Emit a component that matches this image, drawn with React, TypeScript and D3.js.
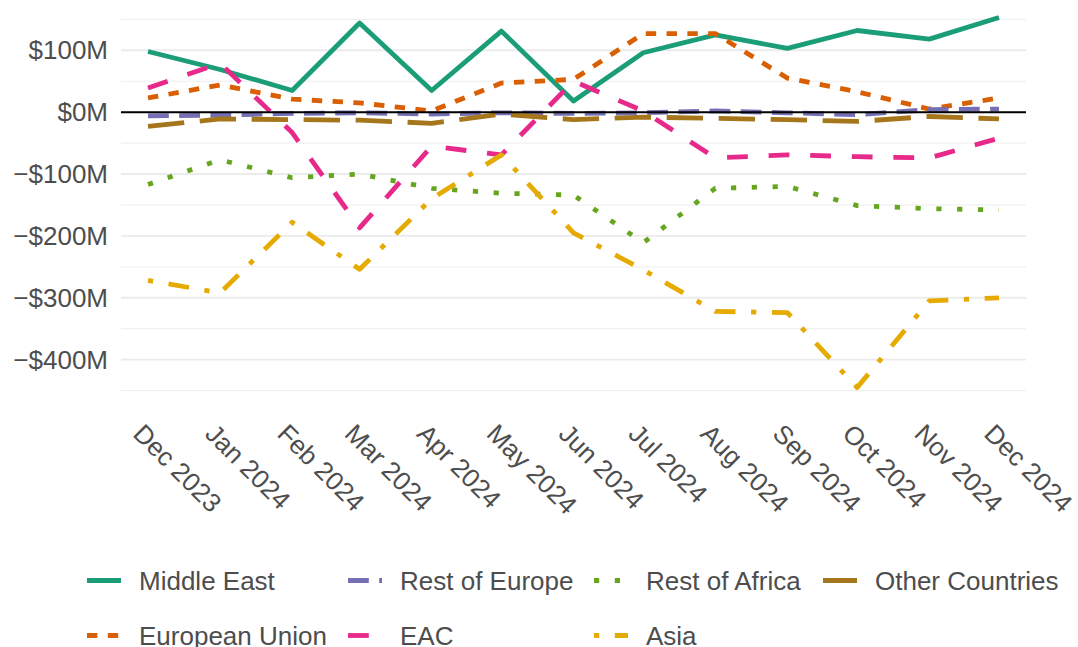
import React from 'react';
import * as d3 from 'd3';

const W = 1078;
const H = 647;

// months on the x axis
const months = ['2023-12-01', '2024-01-01', '2024-02-01', '2024-03-01', '2024-04-01', '2024-05-01', '2024-06-01',
  '2024-07-01', '2024-08-01', '2024-09-01', '2024-10-01', '2024-11-01', '2024-12-01'];
const monthLabels = ['Dec 2023', 'Jan 2024', 'Feb 2024', 'Mar 2024', 'Apr 2024', 'May 2024', 'Jun 2024',
  'Jul 2024', 'Aug 2024', 'Sep 2024', 'Oct 2024', 'Nov 2024', 'Dec 2024'];

// values in $M
const middleEast = [98, 69, 35, 144, 35, 131, 18, 96, 125, 103, 132, 118, 153];
const europeanUnion = [23, 44, 21, 15, 2, 47, 53, 127, 127, 55, 33, 5, 23];
const restOfEurope = [-6, -5, -2, -1, -3, -1, -2, -1, 2, -1, -4, 4, 5];
const eac = [39, 79, -33, -187, -55, -69, 50, 2, -74, -69, -72, -74, -42];
const restOfAfrica = [-117, -77, -106, -100, -123, -131, -134, -211, -123, -120, -151, -156, -158];
const asia = [-272, -292, -178, -254, -140, -69, -195, -255, -322, -324, -445, -305, -300];
const otherCountries = [-23, -11, -12, -13, -18, -3, -12, -8, -10, -12, -15, -7, -11];

const seriesNames = ['Middle East', 'European Union', 'Rest of Europe', 'EAC', 'Rest of Africa', 'Asia', 'Other Countries'];
const seriesValues = [middleEast, europeanUnion, restOfEurope, eac, restOfAfrica, asia, otherCountries];

const majorTicks = [-400, -300, -200, -100, 0, 100];
const minorTicks = [-450, -350, -250, -150, -50, 50, 150];

// ggplot style linetypes: solid, 22, 42, 44, 13, 1343, 73
const linetypes = [null, [2, 2], [4, 2], [4, 4], [1, 3], [1, 3, 4, 3], [7, 3]];
const LW = 4.8;
const UNIT = 5.2;
const dash = (i: number) => linetypes[i] ? linetypes[i]!.map(d => d * UNIT).join(' ') : undefined;

const FONT = '"Liberation Sans", Arial, sans-serif';
const TXT = '#4D4D4D';

const panel = { left: 121, right: 1026 };

export default function App() {
  const dates = months.map(m => new Date(m + 'T00:00:00'));
  const x = d3.scaleTime()
    .domain([dates[0], dates[dates.length - 1]])
    .range([148, 999]);

  const all = seriesValues.flat();
  const lo = d3.min(all)!;
  const hi = d3.max(all)!;
  const pad = (hi - lo) * 0.05;
  const y = d3.scaleLinear().domain([lo - pad, hi + pad]).range([406, -1]);

  const color = d3.scaleOrdinal<string>().domain(seriesNames).range(d3.schemeDark2);

  const line = d3.line<number>()
    .x((_, i) => x(dates[i]))
    .y(d => y(d));

  const fmt = (v: number) => (v < 0 ? '\u2212' : '') + '$' + Math.abs(v) + 'M';

  // legend, filled column by column in 2 rows
  const legendCols = [87, 348, 594, 823];
  const legendRows = [580.5, 635.5];

  return (
    <svg width={W} height={H} style={{ position: 'absolute', left: 0, top: 0, fontFamily: FONT }}>
      <rect width={W} height={H} fill="#fff" />
      {minorTicks.map(t => (
        <line key={'mi' + t} x1={panel.left} x2={panel.right} y1={y(t)} y2={y(t)} stroke="#EBEBEB" strokeWidth={0.9} />
      ))}
      {majorTicks.map(t => (
        <line key={'ma' + t} x1={panel.left} x2={panel.right} y1={y(t)} y2={y(t)} stroke="#EBEBEB" strokeWidth={1.9} />
      ))}
      {majorTicks.map(t => (
        <text key={'yl' + t} x={108} y={y(t)} dy="0.35em" textAnchor="end" fontSize={26} fill={TXT}>{fmt(t)}</text>
      ))}
      {seriesValues.map((vals, i) => (
        <path key={seriesNames[i]} d={line(vals)!} fill="none" stroke={color(seriesNames[i])}
          strokeWidth={LW} strokeDasharray={dash(i)} strokeLinejoin="round" />
      ))}
      <line x1={panel.left} x2={panel.right} y1={y(0)} y2={y(0)} stroke="#000" strokeWidth={2} />
      {dates.map((d, i) => (
        <text key={'xl' + i} transform={`translate(${x(d) - 3},${422}) rotate(45)`} dy="0.72em"
          fontSize={26} fill={TXT}>{monthLabels[i]}</text>
      ))}
      {seriesNames.map((name, i) => {
        const col = Math.floor(i / 2);
        const row = i % 2;
        const kx = legendCols[col];
        const ky = legendRows[row];
        return (
          <g key={'lg' + name}>
            <line x1={kx} x2={kx + 34} y1={ky} y2={ky} stroke={color(name)} strokeWidth={LW} strokeDasharray={dash(i)} />
            <text x={kx + 52} y={ky} dy="0.35em" fontSize={26} fill={TXT}>{name}</text>
          </g>
        );
      })}
    </svg>
  );
}
